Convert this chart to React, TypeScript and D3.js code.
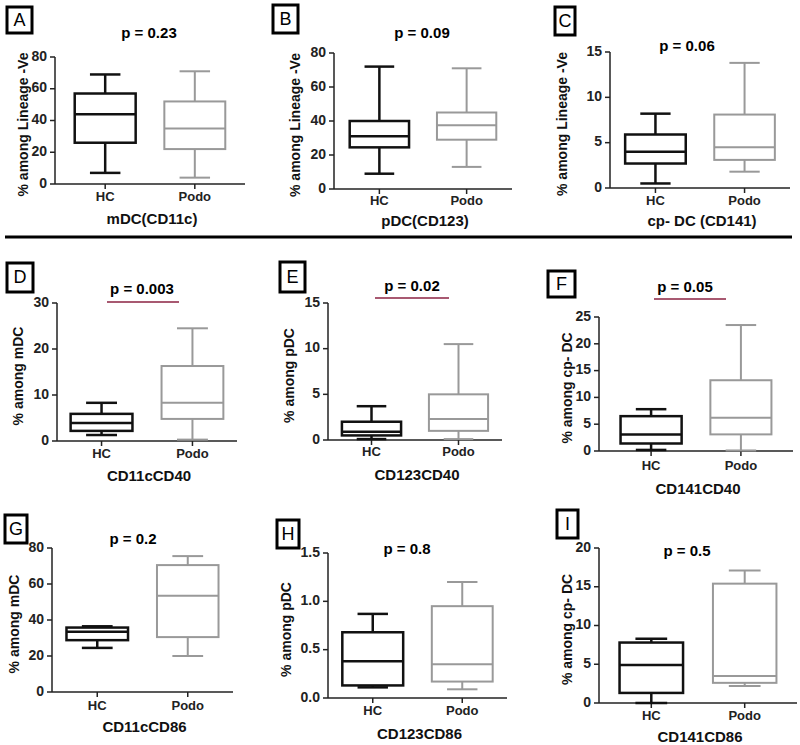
import React from 'react';
import * as d3 from 'd3';

// five-number summaries: [min, q1, median, q3, max]
const categories = ['HC', 'Podo'];
const panelIds = ['A', 'B', 'C', 'D', 'E', 'F', 'G', 'H', 'I'];
const pValues = ['0.23', '0.09', '0.06', '0.003', '0.02', '0.05', '0.2', '0.8', '0.5'];
const significant = [false, false, false, true, true, true, false, false, false];
const yLabels = [
  '% among Lineage -Ve', '% among Lineage -Ve', '% among Lineage -Ve',
  '% among mDC', '% among pDC', '% among cp- DC',
  '% among mDC', '% among pDC', '% among cp- DC',
];
const xTitles = ['mDC(CD11c)', 'pDC(CD123)', 'cp- DC (CD141)', 'CD11cCD40', 'CD123CD40', 'CD141CD40', 'CD11cCD86', 'CD123CD86', 'CD141CD86'];
const yMax = [80, 80, 15, 30, 15, 25, 80, 1.5, 20];
const yStep = [20, 20, 5, 10, 5, 5, 20, 0.5, 5];
const hcStats = [
  [7, 26, 44, 57, 69],
  [9, 24.5, 31, 40, 72],
  [0.5, 2.7, 4.0, 5.9, 8.2],
  [1.3, 2.2, 3.9, 5.9, 8.3],
  [0.1, 0.5, 0.9, 2.0, 3.7],
  [0.2, 1.4, 3.1, 6.5, 7.8],
  [24.5, 28.8, 33.5, 35.8, 36.5],
  [0.11, 0.13, 0.38, 0.68, 0.87],
  [0, 1.3, 4.9, 7.8, 8.3],
];
const podoStats = [
  [4, 22, 35, 52, 71],
  [13, 29, 37.5, 45, 71],
  [1.8, 3.1, 4.5, 8.1, 13.8],
  [0.3, 4.8, 8.3, 16.3, 24.5],
  [0.1, 1.0, 2.3, 5.0, 10.5],
  [0.1, 3.1, 6.2, 13.2, 23.5],
  [20, 30.5, 53.5, 70.5, 75.5],
  [0.09, 0.17, 0.35, 0.95, 1.2],
  [2.2, 2.6, 3.5, 15.4, 17.1],
];

// pixel layout of each panel
const layout = [
  { x0: 55, x1: 245, yTop: 57, yBot: 184, pad: 0.56, titleX: 149, titleY: 34, catY: 198, xtY: 220, ylX: 24, box: [7, 7, 25, 26] },
  { x0: 334, x1: 512, yTop: 53, yBot: 189, pad: 0.52, titleX: 422, titleY: 34, catY: 202, xtY: 222, ylX: 296, box: [273, 5, 25, 28] },
  { x0: 610, x1: 790, yTop: 52, yBot: 188, pad: 0.51, titleX: 687, titleY: 47, catY: 202, xtY: 222, ylX: 563, box: [555, 7, 20, 28] },
  { x0: 57, x1: 237, yTop: 303, yBot: 441, pad: 0.49, titleX: 142, titleY: 290, catY: 455, xtY: 477, ylX: 19, box: [7, 263, 26, 29], sig: [107, 179, 302] },
  { x0: 328, x1: 502, yTop: 303, yBot: 440, pad: 0.5, titleX: 412, titleY: 287, catY: 453, xtY: 476, ylX: 290, box: [280, 262, 25, 30], sig: [375, 449, 298] },
  { x0: 599, x1: 793, yTop: 317, yBot: 451, pad: 0.58, titleX: 685, titleY: 288, catY: 467, xtY: 490, ylX: 568, box: [548, 271, 27, 26], sig: [654, 726, 299] },
  { x0: 52, x1: 233, yTop: 548, yBot: 692, pad: 0.5, titleX: 133, titleY: 540, catY: 707, xtY: 728, ylX: 15, box: [5, 515, 22, 28] },
  { x0: 328, x1: 507, yTop: 553, yBot: 698, pad: 0.5, titleX: 407, titleY: 550, catY: 712, xtY: 735, ylX: 287, box: [277, 520, 22, 28] },
  { x0: 599, x1: 797, yTop: 548, yBot: 703, pad: 0.56, titleX: 687, titleY: 552, catY: 717, xtY: 738, ylX: 568, box: [557, 510, 21, 28] },
];

const font = 'Liberation Sans, Arial, sans-serif';
const colors = ['#111', '#999'];
const widths = [2.5, 2];

function BoxPlot({ stats, x, y, w, color, sw }) {
  const [mn, q1, md, q3, mx] = stats;
  const cap = w / 2;
  return (
    <g stroke={color} strokeWidth={sw} fill="none">
      <line x1={x} x2={x} y1={y(mx)} y2={y(q3)} />
      <line x1={x} x2={x} y1={y(q1)} y2={y(mn)} />
      <line x1={x - cap / 2} x2={x + cap / 2} y1={y(mx)} y2={y(mx)} />
      <line x1={x - cap / 2} x2={x + cap / 2} y1={y(mn)} y2={y(mn)} />
      <rect x={x - w / 2} y={y(q3)} width={w} height={y(q1) - y(q3)} fill="#fff" />
      <line x1={x - w / 2} x2={x + w / 2} y1={y(md)} y2={y(md)} />
    </g>
  );
}

function Panel({ i }) {
  const L = layout[i];
  const y = d3.scaleLinear().domain([0, yMax[i]]).range([L.yBot, L.yTop]);
  const x = d3.scalePoint().domain(categories).range([L.x0, L.x1]).padding(L.pad);
  const bw = x.step() * 0.68;
  const ticks = d3.range(0, yMax[i] + yStep[i] / 2, yStep[i]);
  const fmt = yStep[i] < 1 ? d3.format('.1f') : d3.format('d');
  const groups = [hcStats[i], podoStats[i]];
  const [bx, by, bwid, bh] = L.box;
  return (
    <g fontFamily={font} fontWeight="bold">
      <rect x={bx} y={by} width={bwid} height={bh} fill="#fff" stroke="#000" strokeWidth={3} />
      <text x={bx + bwid / 2} y={by + bh / 2 + 1} textAnchor="middle" dominantBaseline="middle" fontSize={18} fontWeight="normal">{panelIds[i]}</text>
      <text x={L.titleX} y={L.titleY} textAnchor="middle" dominantBaseline="middle" fontSize={15}>p = {pValues[i]}</text>
      {significant[i] && L.sig && (
        <line x1={L.sig[0]} x2={L.sig[1]} y1={L.sig[2]} y2={L.sig[2]} stroke="#8b2242" strokeWidth={1.5} />
      )}
      <line x1={L.x0} x2={L.x0} y1={L.yTop} y2={L.yBot} stroke="#222" strokeWidth={1.5} />
      <line x1={L.x0} x2={L.x1} y1={L.yBot} y2={L.yBot} stroke="#222" strokeWidth={1.5} />
      {ticks.map(t => (
        <g key={t}>
          <line x1={L.x0 - 5} x2={L.x0} y1={y(t)} y2={y(t)} stroke="#222" strokeWidth={1.5} />
          <text x={L.x0 - 8} y={y(t)} textAnchor="end" dominantBaseline="middle" fontSize={14} fill="#222">{fmt(t)}</text>
        </g>
      ))}
      {categories.map((c, k) => (
        <g key={c}>
          <line x1={x(c)} x2={x(c)} y1={L.yBot} y2={L.yBot + 5} stroke="#222" strokeWidth={1.5} />
          <text x={x(c)} y={L.catY} textAnchor="middle" dominantBaseline="middle" fontSize={13} fill="#222">{c}</text>
        </g>
      ))}
      {categories.map((c, k) => (
        <BoxPlot key={c} stats={groups[k]} x={x(c)} y={y} w={bw} color={colors[k]} sw={widths[k]} />
      ))}
      <text x={(L.x0 + L.x1) / 2 + 2} y={L.xtY} textAnchor="middle" dominantBaseline="middle" fontSize={15} fill="#111">{xTitles[i]}</text>
      <text transform={`translate(${L.ylX},${(L.yTop + L.yBot) / 2 + 4}) rotate(-90)`} textAnchor="middle" dominantBaseline="middle" fontSize={14} fill="#111">{yLabels[i]}</text>
    </g>
  );
}

export default function App() {
  return (
    <svg width={800} height={745} style={{ position: 'absolute', left: 0, top: 0, background: '#fff' }}>
      <rect width={800} height={745} fill="#fff" />
      <line x1={5} x2={792} y1={237} y2={237} stroke="#000" strokeWidth={3} />
      {panelIds.map((id, i) => <Panel key={id} i={i} />)}
    </svg>
  );
}
